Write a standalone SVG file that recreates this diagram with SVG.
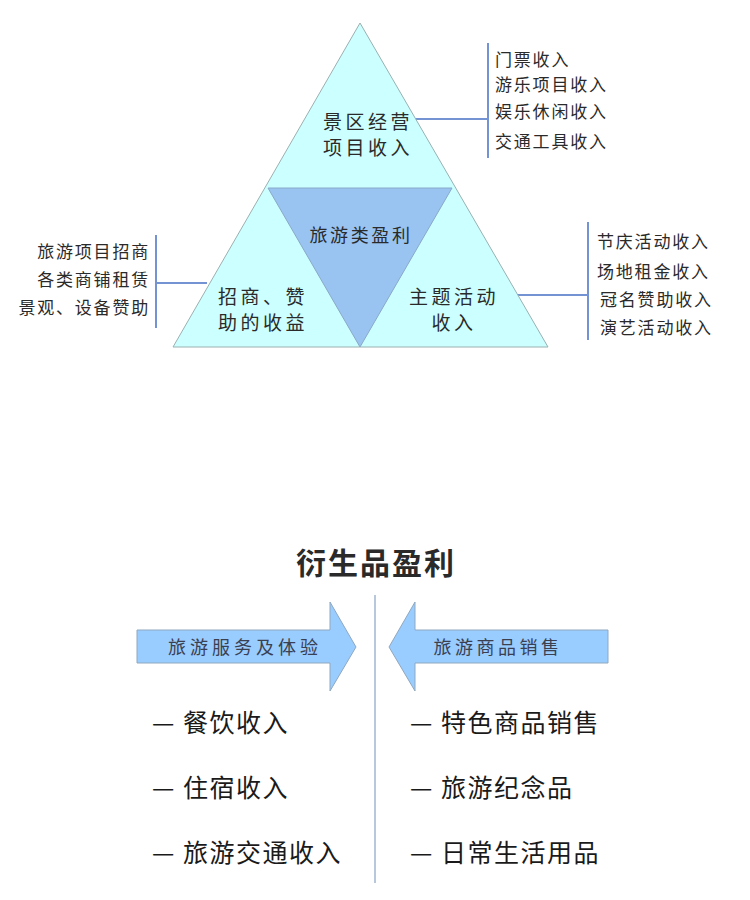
<svg xmlns="http://www.w3.org/2000/svg" width="750" height="900" viewBox="0 0 750 900">
<style>
text{font-family:"Noto Sans CJK SC","Liberation Sans",sans-serif;fill:#2a2a2a}
.tri{fill:#ccffff;stroke:#9ab0b0;stroke-width:1}
.inner{fill:#99c4f2;stroke:#8aa8c8;stroke-width:1}
.c{text-anchor:middle}
.lbl{font-size:19px;letter-spacing:3.5px}
.side{font-size:17px;letter-spacing:1.8px}
.conn{stroke:#7393d2;stroke-width:2;fill:none}
.arrow{fill:#99ccff;stroke:#8fa8c0;stroke-width:1}
.list{font-size:25px;letter-spacing:1.5px;fill:#1a1a1a}
.atext{font-size:18px;fill:#3a4050}
</style>
<rect width="750" height="900" fill="#ffffff"/>
<g id="connectors">
<path class="conn" d="M415 119H488M488 43V158"/>
<path class="conn" d="M207 283H156M156 235V328"/>
<path class="conn" d="M517 295H588M588 222V340"/>
<path d="M375 595V883" stroke="#b8c8dc" stroke-width="2" fill="none"/>
</g>
<g id="pyramid">
<polygon class="tri" points="360,23 173,347 548,347"/>
</g>
<g id="core">
<polygon class="inner" points="268,188 452,188 360,347"/>
<text class="c" x="361" y="242" font-size="18" letter-spacing="2.6">旅游类盈利</text>
</g>
<g id="scenic">
<text class="c lbl" x="368" y="129">景区经营</text>
<text class="c lbl" x="368" y="155">项目收入</text>
</g>
<g id="investment">
<text class="c lbl" x="263" y="304">招商、赞</text>
<text class="c lbl" x="263" y="330">助的收益</text>
</g>
<g id="events">
<text class="c lbl" x="454" y="304">主题活动</text>
<text class="c lbl" x="454" y="330">收入</text>
</g>
<g id="scenic-items">
<text class="side" x="495" y="66">门票收入</text>
<text class="side" x="495" y="91">游乐项目收入</text>
<text class="side" x="495" y="118">娱乐休闲收入</text>
<text class="side" x="495" y="148">交通工具收入</text>
</g>
<g id="investment-items">
<text class="side" x="150" y="258" text-anchor="end">旅游项目招商</text>
<text class="side" x="150" y="286" text-anchor="end">各类商铺租赁</text>
<text class="side" x="150" y="314" text-anchor="end">景观、设备赞助</text>
</g>
<g id="event-items">
<text class="side" x="597" y="248">节庆活动收入</text>
<text class="side" x="597" y="278">场地租金收入</text>
<text class="side" x="600" y="306">冠名赞助收入</text>
<text class="side" x="600" y="334">演艺活动收入</text>
</g>
<g id="title">
<text class="c" x="376" y="574" font-size="30" font-weight="bold" fill="#111" letter-spacing="2">衍生品盈利</text>
</g>
<g id="service-arrow">
<polygon class="arrow" points="137,630 330,630 330,602 356,647 330,691 330,663 137,663"/>
<text class="c atext" x="245" y="654" letter-spacing="4">旅游服务及体验</text>
</g>
<g id="goods-arrow">
<polygon class="arrow" points="608,630 415,630 415,602 389,647 415,691 415,663 608,663"/>
<text class="c atext" x="498" y="654" letter-spacing="3.5">旅游商品销售</text>
</g>
<g id="service-items">
<text class="list" x="152" y="732">— 餐饮收入</text>
<text class="list" x="152" y="797">— 住宿收入</text>
<text class="list" x="152" y="862">— 旅游交通收入</text>
</g>
<g id="goods-items">
<text class="list" x="410" y="732">— 特色商品销售</text>
<text class="list" x="410" y="797">— 旅游纪念品</text>
<text class="list" x="410" y="862">— 日常生活用品</text>
</g>
</svg>
